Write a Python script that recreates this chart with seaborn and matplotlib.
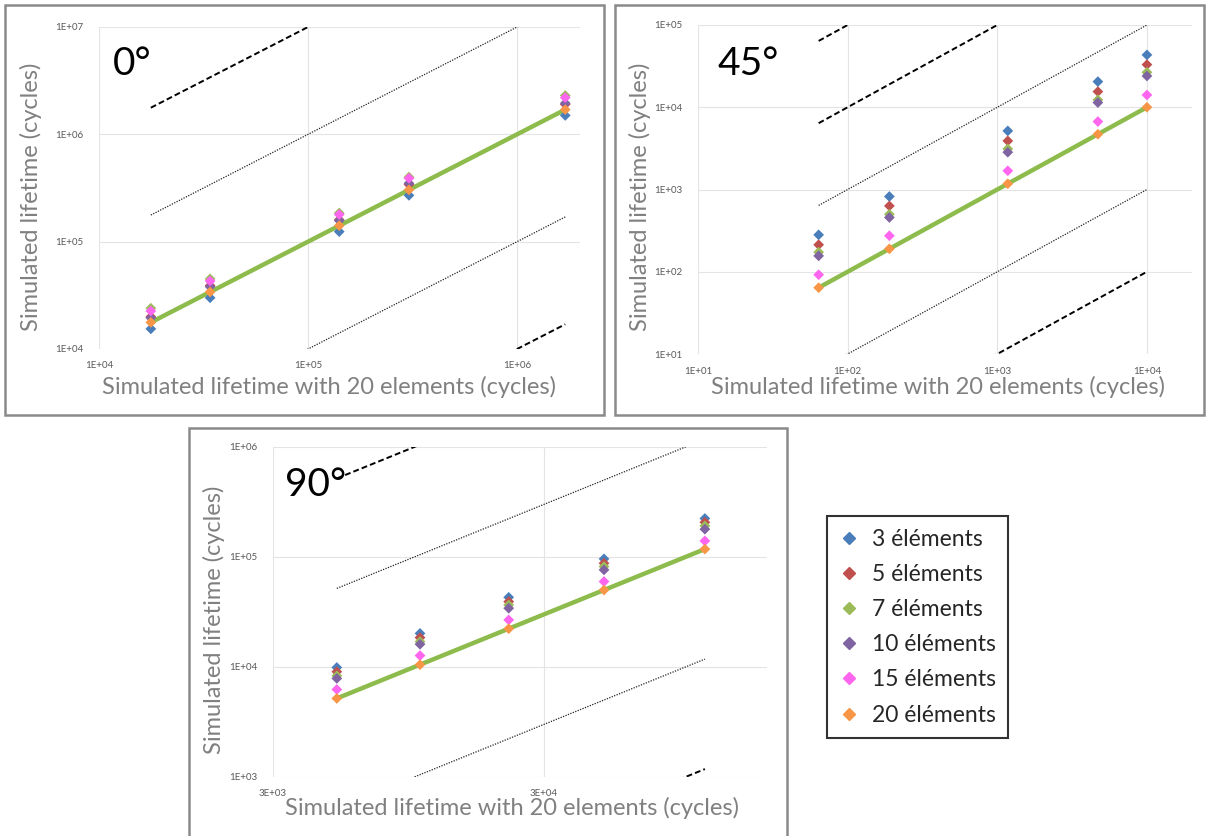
import numpy as np
import pandas as pd
import matplotlib
matplotlib.use("Agg")
import matplotlib.pyplot as plt
import seaborn as sns
from matplotlib.patches import Rectangle
from matplotlib.lines import Line2D
from matplotlib.ticker import FixedLocator, FuncFormatter, NullLocator

# series names and colours
series = ["3 éléments", "5 éléments", "7 éléments", "10 éléments", "15 éléments", "20 éléments"]
colors = ["#4A7EBB", "#C0504D", "#9BBB59", "#8064A2", "#FF66F0", "#F79646"]

# 0 degrees
x20_0 = [1.77e4, 3.4e4, 1.41e5, 3.04e5, 1.70e6]
y3_0 = [1.54e4, 3.0e4, 1.24e5, 2.7e5, 1.5e6]
y5_0 = [2.0e4, 3.9e4, 1.6e5, 3.4e5, 1.9e6]
y7_0 = [2.4e4, 4.5e4, 1.85e5, 4.0e5, 2.3e6]
y10_0 = [1.95e4, 3.8e4, 1.57e5, 3.5e5, 1.95e6]
y15_0 = [2.26e4, 4.3e4, 1.79e5, 3.9e5, 2.2e6]
y20_0 = [1.77e4, 3.4e4, 1.41e5, 3.04e5, 1.70e6]

# 45 degrees
x20_45 = [64, 190, 1175, 4700, 1.0e4]
y3_45 = [281, 822, 5160, 20500, 43300]
y5_45 = [213, 632, 3900, 15500, 33000]
y7_45 = [173, 500, 3120, 12300, 26600]
y10_45 = [156, 457, 2840, 11400, 24000]
y15_45 = [92, 274, 1690, 6700, 14100]
y20_45 = [64, 190, 1175, 4700, 1.0e4]

# 90 degrees
x20_90 = [5180, 10500, 22300, 50100, 118000]
y3_90 = [9900, 20200, 43000, 96200, 224000]
y5_90 = [9060, 18500, 39300, 87800, 207000]
y7_90 = [8320, 17000, 36600, 81900, 192000]
y10_90 = [7870, 16100, 34200, 76400, 179000]
y15_90 = [6250, 12700, 26800, 59800, 140000]
y20_90 = [5180, 10500, 22300, 50100, 118000]

# +/- factor lines around y = x
factors = [1000, 100, 10, 0.1, 0.01]
factor_styles = ["dashed", "dashed", "dotted", "dotted", "dashed"]

panels = [
    dict(title="0°", x=x20_0, ys=[y3_0, y5_0, y7_0, y10_0, y15_0, y20_0],
         xlim=(1e4, 2.0e6), ylim=(1e4, 1e7),
         xticks=[1e4, 1e5, 1e6], yticks=[1e4, 1e5, 1e6, 1e7]),
    dict(title="45°", x=x20_45, ys=[y3_45, y5_45, y7_45, y10_45, y15_45, y20_45],
         xlim=(10, 2.0e4), ylim=(10, 1e5),
         xticks=[1e1, 1e2, 1e3, 1e4], yticks=[1e1, 1e2, 1e3, 1e4, 1e5]),
    dict(title="90°", x=x20_90, ys=[y3_90, y5_90, y7_90, y10_90, y15_90, y20_90],
         xlim=(3e3, 2.0e5), ylim=(1e3, 1e6),
         xticks=[3e3, 3e4], yticks=[1e3, 1e4, 1e5, 1e6]),
]

W, H = 1206, 836


def px_rect(l, r, t, b):
    return [l / W, 1 - b / H, (r - l) / W, (b - t) / H]


# layout in pixels: axes box, panel border, label positions
axes_px = [(99, 580, 27, 349), (698, 1192, 25, 354), (272.5, 767, 447, 777)]
border_px = [(5, 604, 5, 415), (615, 1204, 5, 415), (189, 787, 428, 860)]
title_pos = [(0.029, 0.851), (0.040, 0.848), (0.025, 0.852)]
xlab_pos = [(0.478, -0.118), (0.485, -0.100), (0.484, -0.094)]
ylab_pos = [(-0.141, 0.472), (-0.117, 0.477), (-0.118, 0.476)]

sns.set_style("white")
plt.rcParams["font.family"] = ["Lato", "DejaVu Sans"]

fig = plt.figure(figsize=(W / 100, H / 100), dpi=100)
fig.patch.set_facecolor("white")

for i, p in enumerate(panels):
    ax = fig.add_axes(px_rect(*axes_px[i]))

    df = pd.DataFrame({
        "x": np.tile(p["x"], len(series)),
        "y": np.concatenate(p["ys"]),
        "series": np.repeat(series, len(p["x"])),
    })

    # reference lines (x10, x100 ...)
    xr = np.array([min(p["x"]), max(p["x"])])
    for f, st in zip(factors, factor_styles):
        if st == "dashed":
            ax.plot(xr, xr * f, color="black", lw=1.4, ls=(0, (3, 1.6)), zorder=1)
        else:
            ax.plot(xr, xr * f, color="#222222", lw=0.9, ls=(0, (1, 1.1)), zorder=1)

    # 20 elements trend (y = x)
    sns.lineplot(x=p["x"], y=p["ys"][-1], ax=ax, color="#8DBB4C", lw=3.2, zorder=2)

    sns.scatterplot(data=df, x="x", y="y", hue="series", hue_order=series,
                    palette=colors, marker="D", s=30, linewidth=0,
                    legend=False, ax=ax, zorder=3)

    ax.set_xscale("log")
    ax.set_yscale("log")
    ax.set_xlim(*p["xlim"])
    ax.set_ylim(*p["ylim"])
    fmt = FuncFormatter(lambda v, pos: f"{v:.0E}")
    ax.xaxis.set_major_locator(FixedLocator(p["xticks"]))
    ax.yaxis.set_major_locator(FixedLocator(p["yticks"]))
    ax.xaxis.set_minor_locator(NullLocator())
    ax.yaxis.set_minor_locator(NullLocator())
    ax.xaxis.set_major_formatter(fmt)
    ax.yaxis.set_major_formatter(fmt)
    ax.tick_params(axis="both", length=0, labelsize=7, labelcolor="#595959")
    ax.tick_params(axis="y", pad=11)
    ax.tick_params(axis="x", pad=9)
    ax.grid(True, color="#e4e4e4", lw=0.8, zorder=0)
    ax.set_axisbelow(True)
    for s in ax.spines.values():
        s.set_visible(False)

    ax.set_xlabel("Simulated lifetime with 20 elements (cycles)", fontsize=17, color="#808080")
    ax.set_ylabel("Simulated lifetime (cycles)", fontsize=17, color="#808080")
    ax.xaxis.set_label_coords(*xlab_pos[i])
    ax.yaxis.set_label_coords(*ylab_pos[i])
    ax.xaxis.label.set_va("center")
    ax.yaxis.label.set_va("center")

    ax.text(title_pos[i][0], title_pos[i][1], p["title"], transform=ax.transAxes,
            fontsize=28, color="black", va="baseline", ha="left")

    l, r, t, b = border_px[i]
    fig.add_artist(Rectangle((l / W, 1 - b / H), (r - l) / W, (b - t) / H,
                             transform=fig.transFigure, fill=False,
                             ec="#8a8a8a", lw=1.8))

handles = [Line2D([], [], ls="none", marker="D", markersize=6, color=c, mec=c)
           for c in colors]
leg = fig.legend(handles, series, loc="upper left",
                 bbox_to_anchor=(827 / W, 1 - 516 / H), frameon=True,
                 fancybox=False, fontsize=16.5, handlelength=0.8,
                 handletextpad=0.6, labelspacing=0.62, borderpad=0.55,
                 borderaxespad=0)
leg.get_frame().set_edgecolor("black")
leg.get_frame().set_linewidth(1.5)

fig.savefig("out.png", dpi=100)
